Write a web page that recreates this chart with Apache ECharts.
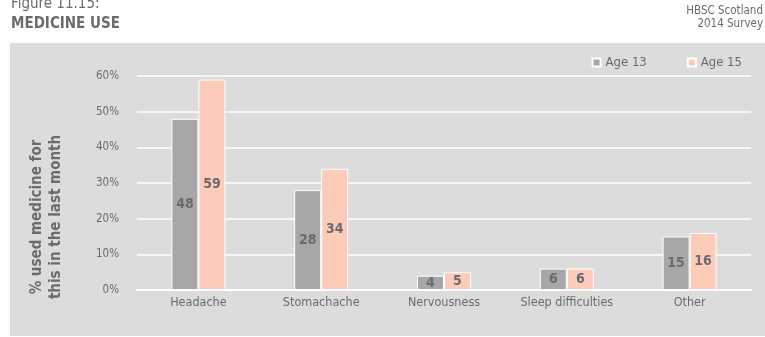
<!DOCTYPE html>
<html>
<head>
<meta charset="utf-8">
<script src="https://cdn.jsdelivr.net/npm/echarts@6/dist/echarts.min.js"></script>
<style>
  html, body { margin: 0; padding: 0; background: #fff; }
  #chart { width: 765px; height: 337px; }
</style>
</head>
<body>
<div id="chart"></div>
<script>
var categories = ['Headache', 'Stomachache', 'Nervousness', 'Sleep difficulties', 'Other'];
var age13 = [48, 28, 4, 6, 15];
var age15 = [59, 34, 5, 6, 16];
var seriesNames = ['Age 13', 'Age 15'];

var FONT = '"DejaVu Sans Condensed", "Liberation Sans Narrow", sans-serif';
var TXT = '#6b6b6d';

var chart = echarts.init(document.getElementById('chart'));

var barLabel = {
  show: true,
  position: 'inside',
  fontFamily: FONT,
  fontWeight: 'bold',
  fontSize: 14,
  color: TXT
};

chart.setOption({
  backgroundColor: '#fff',
  animation: false,
  textStyle: { fontFamily: FONT },
  graphic: [
    // grey panel behind the plot
    { type: 'rect', z: -10, silent: true, shape: { x: 10, y: 43, width: 755, height: 293 }, style: { fill: '#dcdcdc' } },
    { type: 'text', x: 11, y: -3, style: { text: 'Figure 11.15:', font: '15px ' + FONT, fill: TXT } },
    { type: 'text', x: 11, y: 17, style: { text: 'MEDICINE USE', font: 'bold 15px ' + FONT, fill: TXT } },
    { type: 'text', x: 763, y: 5, style: { text: 'HBSC Scotland', font: '11.5px ' + FONT, fill: TXT, align: 'right' } },
    { type: 'text', x: 763, y: 18, style: { text: '2014 Survey', font: '11.5px ' + FONT, fill: TXT, align: 'right' } },
    {
      type: 'text', x: 47, y: 217, rotation: Math.PI / 2,
      style: {
        text: '% used medicine for\nthis in the last month',
        font: 'bold 15px ' + FONT, fill: TXT,
        align: 'center', verticalAlign: 'middle', lineHeight: 19
      }
    }
  ],
  legend: {
    data: seriesNames,
    right: 18,
    top: 51,
    icon: 'rect',
    itemWidth: 8,
    itemHeight: 8,
    itemGap: 40,
    textStyle: { fontFamily: FONT, fontSize: 13, color: TXT }
  },
  grid: { left: 137, right: 14, top: 76, bottom: 47 },
  xAxis: {
    type: 'category',
    data: categories,
    axisLine: { lineStyle: { color: '#fff', width: 2 } },
    axisTick: { show: false },
    axisLabel: { interval: 0, fontFamily: FONT, fontSize: 12.5, color: TXT, margin: 6 }
  },
  yAxis: {
    type: 'value',
    min: 0,
    max: 60,
    interval: 10,
    axisLine: { show: false },
    axisTick: { show: false },
    axisLabel: { formatter: '{value}%', fontFamily: FONT, fontSize: 11.5, color: TXT, margin: 18 },
    splitLine: { lineStyle: { color: '#fff', width: 1.5 } }
  },
  series: [
    {
      name: seriesNames[0],
      type: 'bar',
      data: age13,
      barWidth: 27,
      barGap: '0%',
      itemStyle: { color: '#a7a7a9', borderColor: '#fff', borderWidth: 1 },
      label: barLabel
    },
    {
      name: seriesNames[1],
      type: 'bar',
      data: age15,
      barWidth: 27,
      itemStyle: { color: '#fccbb9', borderColor: '#fff', borderWidth: 1 },
      label: barLabel
    }
  ]
});
</script>
</body>
</html>
